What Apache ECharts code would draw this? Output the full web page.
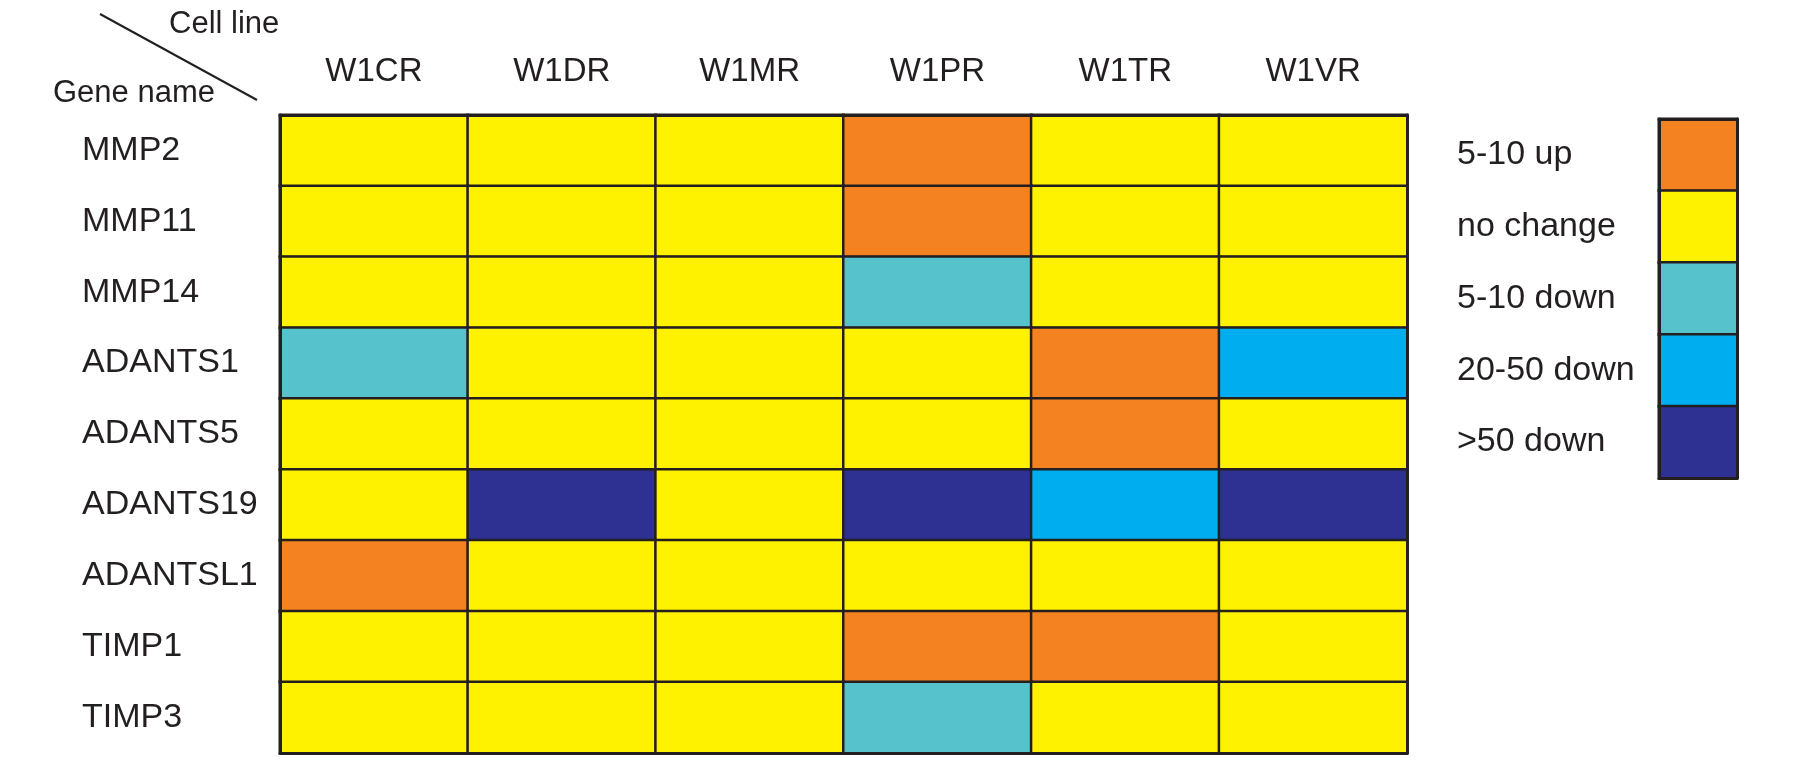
<!DOCTYPE html>
<html>
<head>
<meta charset="utf-8">
<script src="https://cdn.jsdelivr.net/npm/echarts@6/dist/echarts.min.js"></script>
<style>html,body{margin:0;padding:0;background:#fff}#c{width:1795px;height:767px}</style>
</head>
<body>
<div id="c"></div>
<script>
const cellLines = ['W1CR', 'W1DR', 'W1MR', 'W1PR', 'W1TR', 'W1VR'];
const genes = ['MMP2', 'MMP11', 'MMP14', 'ADANTS1', 'ADANTS5', 'ADANTS19', 'ADANTSL1', 'TIMP1', 'TIMP3'];
const levels = ['5-10 up', 'no change', '5-10 down', '20-50 down', '>50 down'];
const levelColors = ['#F58220', '#FFF200', '#56C3CC', '#00AEEF', '#2E3192'];
// level index per gene (rows) x cell line (columns)
const MMP2 = [1, 1, 1, 0, 1, 1];
const MMP11 = [1, 1, 1, 0, 1, 1];
const MMP14 = [1, 1, 1, 2, 1, 1];
const ADANTS1 = [2, 1, 1, 1, 0, 3];
const ADANTS5 = [1, 1, 1, 1, 0, 1];
const ADANTS19 = [1, 4, 1, 4, 3, 4];
const ADANTSL1 = [0, 1, 1, 1, 1, 1];
const TIMP1 = [1, 1, 1, 0, 0, 1];
const TIMP3 = [1, 1, 1, 2, 1, 1];
const rows = [MMP2, MMP11, MMP14, ADANTS1, ADANTS5, ADANTS19, ADANTSL1, TIMP1, TIMP3];

const FONT = "'Liberation Sans', Arial, sans-serif";
const INK = '#231f20';

const heatData = [];
rows.forEach((r, gi) => r.forEach((v, ci) => heatData.push([ci, gi, v])));
const legendData = levels.map((l, i) => [0, i, i]);

const edge = {show: true, lineStyle: {color: INK, width: 3}};
const chart = echarts.init(document.getElementById('c'));
chart.setOption({
  animation: false,
  backgroundColor: '#fff',
  grid: [
    {left: 280, right: 1795 - 1407, top: 115, bottom: 767 - 753},
    {left: 1659, right: 1795 - 1737, top: 119, bottom: 767 - 478}
  ],
  xAxis: [
    {type: 'category', data: cellLines, gridIndex: 0, position: 'top', axisLine: edge, axisTick: {show: false}, z: 10,
     axisLabel: {fontFamily: FONT, fontSize: 33, color: INK, margin: 43, verticalAlign: 'middle'}, splitLine: {show: false}},
    {type: 'category', data: cellLines, gridIndex: 0, position: 'bottom', axisLine: edge, axisTick: {show: false}, axisLabel: {show: false}, z: 10},
    {type: 'category', data: ['key'], gridIndex: 1, position: 'bottom', axisLine: edge, axisTick: {show: false}, axisLabel: {show: false}, z: 10},
    {type: 'category', data: ['key'], gridIndex: 1, position: 'top', axisLine: edge, axisTick: {show: false}, axisLabel: {show: false}, z: 10}
  ],
  yAxis: [
    {type: 'category', data: genes, gridIndex: 0, inverse: true, position: 'left', axisLine: edge, axisTick: {show: false}, z: 10,
     axisLabel: {fontFamily: FONT, fontSize: 34, color: INK, align: 'left', margin: 280 - 82}},
    {type: 'category', data: genes, gridIndex: 0, inverse: true, position: 'right', axisLine: edge, axisTick: {show: false}, axisLabel: {show: false}, z: 10},
    {type: 'category', data: levels, gridIndex: 1, inverse: true, position: 'left', axisLine: edge, axisTick: {show: false}, z: 10,
     axisLabel: {fontFamily: FONT, fontSize: 34, color: INK, align: 'left', margin: 1659 - 1457}},
    {type: 'category', data: levels, gridIndex: 1, inverse: true, position: 'right', axisLine: edge, axisTick: {show: false}, axisLabel: {show: false}, z: 10}
  ],
  visualMap: {
    type: 'piecewise', show: false, dimension: 2, seriesIndex: [0, 1],
    pieces: levels.map((l, i) => ({value: i, color: levelColors[i], label: l}))
  },
  series: [
    {type: 'heatmap', xAxisIndex: 0, yAxisIndex: 0, data: heatData,
     itemStyle: {borderColor: INK, borderWidth: 2.5}, emphasis: {disabled: true}},
    {type: 'heatmap', xAxisIndex: 2, yAxisIndex: 2, data: legendData,
     itemStyle: {borderColor: INK, borderWidth: 2.5}, emphasis: {disabled: true}}
  ],
  graphic: [
    {type: 'line', shape: {x1: 100, y1: 14, x2: 257, y2: 100}, style: {stroke: INK, lineWidth: 2}},
    {type: 'text', x: 169, y: 24, style: {text: 'Cell line', font: "31px 'Liberation Sans', Arial, sans-serif", fill: INK, verticalAlign: 'middle'}},
    {type: 'text', x: 53, y: 93, style: {text: 'Gene name', font: "31px 'Liberation Sans', Arial, sans-serif", fill: INK, verticalAlign: 'middle'}}
  ]
});
</script>
</body>
</html>
